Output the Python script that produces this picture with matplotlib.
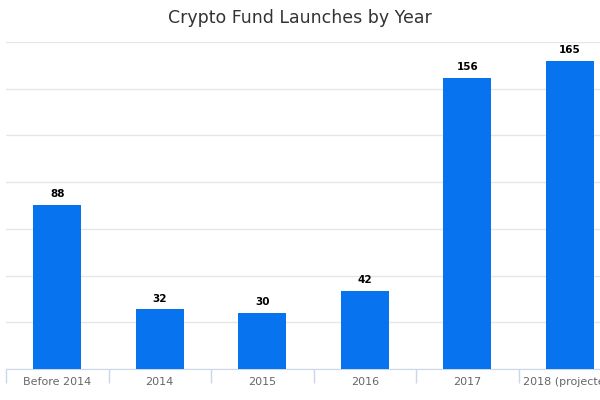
import numpy as np
import matplotlib.pyplot as plt

# data
categories = ["Before 2014", "2014", "2015", "2016", "2017", "2018 (projected)"]
launches = [88, 32, 30, 42, 156, 165]

fig = plt.figure(figsize=(6, 4), dpi=100)
ax = fig.add_axes([0.01, 0.0775, 1.025, 0.8175])

x = np.arange(len(categories))
bars = ax.bar(x, launches, width=0.47, color='#0873EE', zorder=3)

for xi, v in zip(x, launches):
    ax.text(xi, v + 3, str(v), ha='center', va='bottom', fontsize=7.5,
            fontweight='bold', color='black')

ax.set_xlim(-0.5, len(categories) - 0.5)
ax.set_ylim(0, 175)
ax.set_yticks(np.arange(0, 176, 25))
ax.yaxis.grid(True, color='#e6e6e6', linewidth=1, zorder=0)
ax.tick_params(axis='y', left=False, labelleft=False)

# category boundaries as ticks, labels at centres
ax.set_xticks(np.arange(-0.5, len(categories), 1))
ax.set_xticklabels([])
ax.set_xticks(x, minor=True)
ax.set_xticklabels(categories, minor=True)
ax.tick_params(axis='x', which='major', length=10, color='#ccd6eb', width=1)
ax.tick_params(axis='x', which='minor', length=0, labelsize=8, labelcolor='#666666', pad=6)

for s in ['top', 'right', 'left']:
    ax.spines[s].set_visible(False)
ax.spines['bottom'].set_color('#ccd6eb')

fig.text(0.5, 0.955, "Crypto Fund Launches by Year", ha='center', va='center',
         fontsize=12.5, color='#333333')

fig.savefig('out.png', dpi=100)
